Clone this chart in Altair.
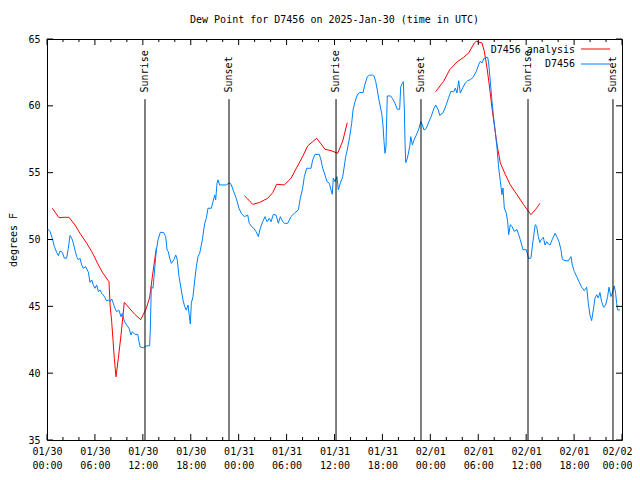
import json
import altair as alt
import pandas as pd

# ---------------- data (hours since 2025-01-30 00:00 UTC) ----------------
obs_hours = [0.08, 0.38, 0.66, 0.92, 1.21, 1.42, 1.63, 1.92, 2.17, 2.46, 2.67, 2.88, 3.09, 3.3, 3.5,
             3.72, 3.92, 4.13, 4.34, 4.55, 4.84, 5.18, 5.38, 5.6, 5.8, 6.01, 6.22, 6.43, 6.64, 6.85,
             7.05, 7.26, 7.47, 7.68, 7.89, 8.1, 8.3, 8.51, 8.72, 9.0, 9.27, 9.43, 9.68, 9.98, 10.27,
             10.52, 10.68, 11.0, 11.36, 11.65, 12.06, 12.48, 12.85, 12.94, 13.06, 13.27, 13.4, 13.69,
             13.9, 14.19, 14.61, 14.86, 15.03, 15.19, 15.36, 15.57, 15.87, 16.12, 16.32, 16.53, 16.82,
             17.03, 17.24, 17.44, 17.66, 17.78, 17.95, 18.07, 18.28, 18.5, 18.7, 18.91, 19.12, 19.45,
             19.75, 19.95, 20.16, 20.58, 20.79, 21.0, 21.12, 21.29, 21.41, 21.62, 22.04, 22.45, 22.88,
             23.08, 23.38, 23.7, 24.04, 24.33, 24.71, 25.13, 25.33, 25.63, 25.88, 26.17, 26.46, 26.71,
             27.01, 27.3, 27.55, 27.84, 28.05, 28.34, 28.68, 28.97, 29.22, 29.52, 29.72, 30.14, 30.55,
             30.97, 31.47, 31.72, 32.01, 32.22, 32.52, 33.06, 33.27, 33.56, 34.1, 34.31, 34.52, 34.81,
             35.06, 35.35, 35.56, 35.72, 35.85, 36.06, 36.31, 36.48, 36.73, 37.03, 37.19, 37.4, 37.6,
             37.9, 38.15, 38.32, 38.57, 38.86, 39.16, 39.57, 39.82, 40.11, 40.41, 40.74, 40.95, 41.16,
             41.36, 41.57, 41.91, 42.07, 42.2, 42.32, 42.45, 42.54, 42.61, 43.03, 43.24, 43.58, 43.86,
             44.16, 44.29, 44.49, 44.62, 44.75, 44.83, 44.92, 45.12, 45.42, 45.55, 45.75, 45.96, 46.25,
             46.58, 46.8, 47.0, 47.21, 47.5, 47.83, 48.17, 48.46, 48.67, 49.0, 49.17, 49.59, 50.0,
             50.3, 50.59, 50.92, 51.13, 51.34, 51.55, 51.75, 52.09, 52.38, 52.68, 53.01, 53.34, 53.76,
             54.06, 54.26, 54.48, 54.69, 54.97, 55.18, 55.3, 55.51, 55.72, 55.93, 56.13, 56.35, 56.56,
             56.77, 56.97, 57.1, 57.26, 57.51, 57.68, 57.81, 58.01, 58.22, 58.51, 58.85, 59.06, 59.26,
             59.6, 60.01, 60.31, 60.6, 60.85, 61.14, 61.32, 61.52, 61.7, 61.86, 62.15, 62.36, 62.58,
             62.78, 62.99, 63.28, 63.62, 63.83, 64.11, 64.36, 64.53, 64.86, 65.27, 65.61, 65.78, 66.03,
             66.33, 66.61, 66.95, 67.28, 67.58, 67.78, 67.99, 68.2, 68.41, 68.62, 68.83, 69.03, 69.24,
             69.45, 69.7, 69.95, 70.2, 70.37, 70.62, 70.78, 71.03, 71.2, 71.33, 71.45, 71.74]
obs_values = [50.79, 50.6, 50.1, 49.47, 49.04, 48.79, 49.14, 49.04, 48.6, 48.6, 49.34, 50.3, 50.1, 49.72, 49.22,
              48.72, 48.47, 48.6, 48.1, 47.85, 47.97, 47.55, 46.8, 46.97, 46.6, 46.35, 46.6, 46.1, 46.22, 45.97,
              45.85, 45.65, 45.4, 45.48, 45.35, 45.55, 45.23, 44.85, 44.6, 44.72, 44.22, 44.48, 43.9, 43.6, 43.35,
              42.86, 43.1, 42.9, 42.9, 41.97, 41.9, 42.05, 42.05, 43.3, 46.47, 46.35, 47.22, 49.2,
              49.97, 50.54, 50.52, 50.22, 49.22, 49.09, 48.6, 48.22, 48.47, 48.84, 48.47, 47.22, 46.22,
              45.48, 44.97, 44.72, 45.1, 44.48, 43.68, 45.23, 45.73, 46.97, 47.97, 48.72, 48.97, 49.97,
              51.22, 51.59, 52.34, 52.34, 52.84, 53.33, 52.96, 54.21, 54.46, 54.08, 54.08, 54.08, 54.25,
              54.08, 53.58, 53.08, 52.34, 51.96, 51.71, 51.83, 51.21, 50.96, 50.84, 50.59, 50.22, 50.84,
              51.33, 51.71, 51.33, 51.59, 51.33, 51.88, 51.83, 51.21, 51.71, 51.33, 51.21, 51.21, 51.71,
              51.96, 52.21, 53.08, 53.83, 54.7, 55.33, 55.33, 55.95, 56.37, 56.37, 55.95, 55.33, 54.83,
              54.33, 54.21, 53.71, 53.38, 54.58, 54.33, 54.7, 53.71, 54.21, 54.7, 55.33, 56.2, 56.7,
              57.69, 58.69, 59.69, 60.31, 60.81, 61.01, 60.98, 61.63, 62.18, 62.3, 62.3, 62.23, 61.81,
              61.18, 60.44, 59.44, 58.57, 57.32, 56.45, 56.95, 59.19, 60.74, 60.74, 60.56, 60.19, 59.74,
              59.74, 61.43, 61.68, 61.81, 59.69, 57.2, 55.75, 56.08, 56.95, 57.69, 57.07, 57.45, 57.82,
              58.32, 58.82, 58.57, 58.19, 58.32, 58.82, 59.31, 59.82, 60.06, 59.69, 59.29, 59.47, 60.09,
              60.64, 61.09, 61.04, 61.33, 60.96, 61.88, 60.96, 61.39, 61.71, 61.88, 61.96, 62.13, 62.58,
              63.08, 63.33, 63.2, 63.53, 63.63, 63.63, 63.2, 61.84, 60.34, 59.09, 58.09, 56.85, 55.35,
              54.35, 53.35, 53.85, 52.36, 51.98, 51.36, 50.36, 51.11, 50.99, 50.61, 50.74, 50.36, 49.99,
              49.24, 49.24, 48.57, 48.62, 49.87, 51.11, 50.96, 50.22, 49.77, 49.97, 50.17, 49.59, 49.84,
              49.66, 49.59, 50.02, 50.46, 50.22, 49.84, 49.22, 48.52, 48.42, 48.4, 48.72, 48.1, 47.6,
              47.22, 46.85, 46.43, 46.18, 46.43, 45.23, 44.35, 43.93, 44.73, 45.62, 45.87, 45.62, 46.03,
              45.35, 44.93, 45.1, 45.73, 46.43, 45.73, 45.98, 46.53, 45.98, 45.23, 44.73, 44.73]

ana1_hours = [0.66, 1.5, 2.17, 2.75, 3.5, 4.13, 4.97, 5.6, 6.35, 6.93, 7.6, 7.76, 7.9, 8.1, 8.43, 8.64,
              8.93, 9.27, 9.68, 10.4, 11.0, 11.73, 12.44, 12.86, 13.19, 13.48, 13.69]
ana1_values = [52.34, 51.63, 51.66, 51.66, 51.09, 50.47, 49.72, 49.1, 48.2, 47.55, 46.97, 46.85, 45.1, 43.85,
               41.1, 39.73, 41.1, 42.86, 45.3, 44.8, 44.4, 44.0, 44.85, 45.7, 47.2, 48.47, 49.35]
ana2_hours = [24.71, 25.13, 25.76, 26.58, 27.63, 28.26, 28.76, 29.72, 30.55, 31.18, 32.01, 32.64, 33.27,
              33.77, 34.31, 34.81, 35.56, 36.4, 37.03, 37.6]
ana2_values = [53.28, 53.03, 52.63, 52.76, 53.08, 53.5, 54.13, 54.08, 54.58, 55.28, 56.2, 57.0, 57.32,
               57.57, 57.15, 56.75, 56.65, 56.45, 57.37, 58.74]
ana3_hours = [48.67, 49.67, 50.42, 51.34, 52.17, 52.8, 53.5, 53.76, 54.47, 54.76, 55.1, 55.43, 55.72,
              56.0, 56.35, 56.77, 57.4, 58.0, 58.85, 59.69, 60.19, 60.6, 61.15, 61.57, 61.7]
ana3_values = [61.06, 61.84, 62.7, 63.28, 63.63, 63.95, 64.7, 64.83, 64.7, 64.08, 62.83, 61.33, 59.84,
               58.59, 57.09, 55.72, 54.85, 54.1, 53.35, 52.6, 52.18, 51.86, 52.23, 52.56, 52.7]

sun_hours = [12.27, 22.79, 36.19, 46.83, 60.23, 70.87]
sun_labels = ["Sunrise", "Sunset", "Sunrise", "Sunset", "Sunrise", "Sunset"]

x_tick_hours = [0, 6, 12, 18, 24, 30, 36, 42, 48, 54, 60, 66, 72]
x_minor_hours = [2, 4, 8, 10, 14, 16, 20, 22, 26, 28, 32, 34, 38, 40, 44, 46, 50, 52, 56, 58, 62, 64, 68, 70]
x_tick_dates = ["01/30", "01/30", "01/30", "01/30", "01/31", "01/31", "01/31", "01/31",
                "02/01", "02/01", "02/01", "02/01", "02/02"]
x_tick_times = ["00:00", "06:00", "12:00", "18:00", "00:00", "06:00", "12:00", "18:00",
                "00:00", "06:00", "12:00", "18:00", "00:00"]
y_ticks = [35, 40, 45, 50, 55, 60, 65]

legend_labels = ["D7456 analysis", "D7456"]
TITLE = "Dew Point for D7456 on 2025-Jan-30 (time in UTC)"

# ---------------- style ----------------
FONT = "DejaVu Sans Mono"
RED = "#ff0000"
BLUE = "#0080ff"
W, H = 575, 401

obs = pd.DataFrame({"h": obs_hours, "v": obs_values})
ana = pd.concat([
    pd.DataFrame({"h": ana1_hours, "v": ana1_values, "seg": 1}),
    pd.DataFrame({"h": ana2_hours, "v": ana2_values, "seg": 2}),
    pd.DataFrame({"h": ana3_hours, "v": ana3_values, "seg": 3}),
])
sun = pd.DataFrame({"h": sun_hours, "label": sun_labels})
xmaj = pd.DataFrame({"h": x_tick_hours})
xmin = pd.DataFrame({"h": x_minor_hours})
yt = pd.DataFrame({"v": y_ticks})

idx = "round(datum.value/6)"
label_expr = f"[{json.dumps(x_tick_dates)}[{idx}], {json.dumps(x_tick_times)}[{idx}]]"

xscale = alt.Scale(domain=[0, 72], nice=False, zero=False)
yscale = alt.Scale(domain=[35, 65], nice=False, zero=False)

xenc = alt.X("h:Q", scale=xscale, title=None,
             axis=alt.Axis(values=x_tick_hours, labelExpr=label_expr, ticks=False, domain=False,
                           grid=False, labelFont=FONT, labelFontSize=10, labelPadding=6,
                           labelLineHeight=14, labelFlush=False, labelOverlap=False,
                           labelColor="black",
                           labelOffset=alt.ExprRef(expr="datum.value >= 72 ? -5 : 0")))
yenc = alt.Y("v:Q", scale=yscale, title="degrees F",
             axis=alt.Axis(values=y_ticks, ticks=False, domain=False, grid=False,
                           labelFont=FONT, labelFontSize=10, labelPadding=7, labelColor="black",
                           titleFont=FONT, titleFontSize=10, titleFontWeight="normal",
                           titleColor="black", titlePadding=9))

base_x = alt.X("h:Q", scale=xscale)
base_y = alt.Y("v:Q", scale=yscale)

ana_line = alt.Chart(ana).mark_line(color=RED, strokeWidth=1).encode(
    x=xenc, y=yenc, detail="seg:N")
obs_line = alt.Chart(obs).mark_line(color=BLUE, strokeWidth=1).encode(x=base_x, y=base_y)

sun_rule = alt.Chart(sun).mark_rule(color="black", strokeWidth=1).encode(
    x=base_x, y=alt.datum(35, scale=yscale), y2=alt.datum(60.5))
sun_text = alt.Chart(sun).mark_text(font=FONT, fontSize=10, angle=270, align="left",
                                    baseline="middle", color="black").encode(
    x=base_x, y=alt.datum(61.0, scale=yscale), text="label:N")

# inward ticks (gnuplot style, mirrored)
xmaj_b = alt.Chart(xmaj).mark_rule(color="black").encode(x=base_x, y=alt.value(H), y2=alt.value(H - 6))
xmaj_t = alt.Chart(xmaj).mark_rule(color="black").encode(x=base_x, y=alt.value(0), y2=alt.value(6))
xmin_b = alt.Chart(xmin).mark_rule(color="black").encode(x=base_x, y=alt.value(H), y2=alt.value(H - 3))
xmin_t = alt.Chart(xmin).mark_rule(color="black").encode(x=base_x, y=alt.value(0), y2=alt.value(3))
y_l = alt.Chart(yt).mark_rule(color="black").encode(y=base_y, x=alt.value(0), x2=alt.value(6))
y_r = alt.Chart(yt).mark_rule(color="black").encode(y=base_y, x=alt.value(W), x2=alt.value(W - 6))

# key (gnuplot style: text then sample line)
leg = pd.DataFrame({"label": legend_labels, "color": [RED, BLUE]})
leg_text1 = alt.Chart(leg.iloc[[0]]).mark_text(font=FONT, fontSize=10, align="right",
                                               baseline="middle", color="black").encode(
    text="label:N", x=alt.value(528), y=alt.value(11))
leg_text2 = alt.Chart(leg.iloc[[1]]).mark_text(font=FONT, fontSize=10, align="right",
                                               baseline="middle", color="black").encode(
    text="label:N", x=alt.value(528), y=alt.value(25))
leg_line1 = alt.Chart(leg.iloc[[0]]).mark_rule(color=RED, strokeWidth=1).encode(
    x=alt.value(534), x2=alt.value(563), y=alt.value(10))
leg_line2 = alt.Chart(leg.iloc[[1]]).mark_rule(color=BLUE, strokeWidth=1).encode(
    x=alt.value(534), x2=alt.value(563), y=alt.value(25))

chart = alt.layer(
    ana_line, obs_line, sun_rule, sun_text,
    xmaj_b, xmaj_t, xmin_b, xmin_t, y_l, y_r,
    leg_text1, leg_text2, leg_line1, leg_line2,
).properties(
    width=W, height=H,
    title=alt.TitleParams(TITLE, font=FONT, fontSize=10, fontWeight="normal", anchor="middle",
                          color="black", offset=9),
    autosize="none",
    padding={"left": 39, "top": 31, "right": 10, "bottom": 32},
    background="white",
).configure_view(stroke="black", strokeWidth=1)

chart.save("out.html", embed_options={"renderer": "svg", "actions": False})
